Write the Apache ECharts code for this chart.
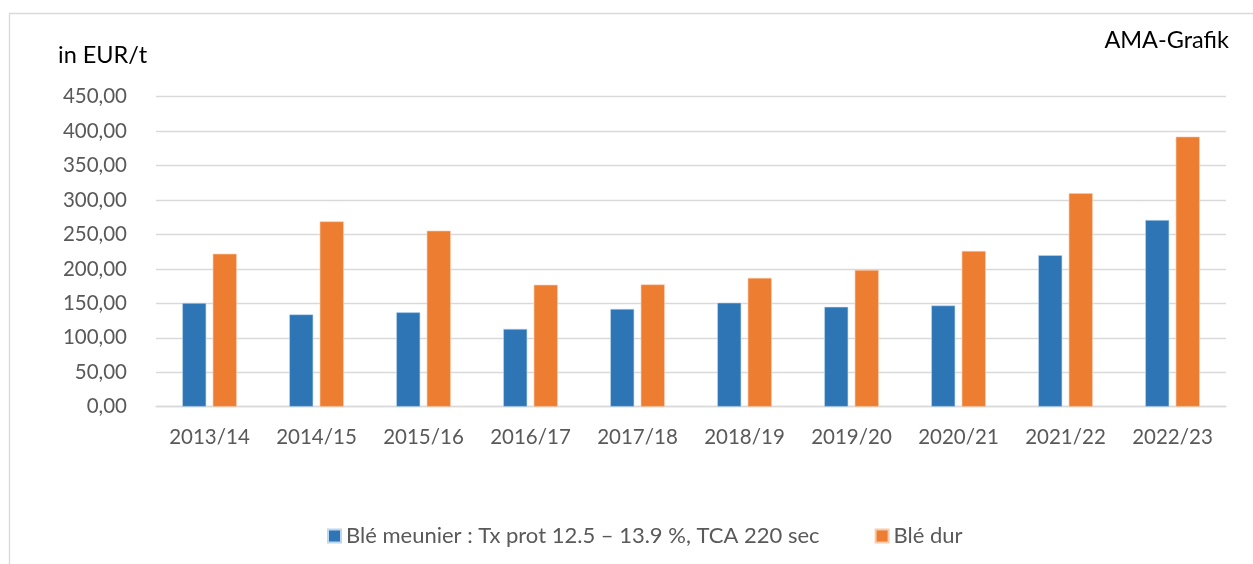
<!DOCTYPE html>
<html>
<head>
<meta charset="utf-8">
<script src="https://cdn.jsdelivr.net/npm/echarts@6/dist/echarts.min.js"></script>
<style>
html,body{margin:0;padding:0;background:#fff;}
#chart{width:1253px;height:564px;}
</style>
</head>
<body>
<div id="chart"></div>
<script>
var categories = ['2013/14','2014/15','2015/16','2016/17','2017/18','2018/19','2019/20','2020/21','2021/22','2022/23'];
var bleMeunier = [150.5, 134, 137, 113, 142, 151, 145, 147, 220, 271];
var bleDur = [222, 269, 255.5, 177, 177.5, 187, 198.5, 226, 310, 392];
var seriesNames = ['Blé meunier : Tx prot 12.5 – 13.9 %, TCA 220 sec', 'Blé dur'];
var yTicks = [0, 50, 100, 150, 200, 250, 300, 350, 400, 450];

var FONT = 'Lato, "Open Sans", sans-serif';
var chart = echarts.init(document.getElementById('chart'), null, {renderer:'canvas'});
chart.setOption({
  animation:false,
  backgroundColor:'#fff',
  textStyle:{fontFamily:FONT},
  graphic:[
    {type:'rect', shape:{x:9.5,y:13.5,width:1260,height:600}, style:{fill:'none',stroke:'#d9d9d9',lineWidth:1.3}, silent:true},
    {type:'text', left:58, top:43, style:{text:'in EUR/t', font:'23.5px '+FONT, fill:'#000'}},
    {type:'text', right:24, top:28, style:{text:'AMA-Grafik', font:'23.5px '+FONT, fill:'#000'}}
  ],
  grid:{left:156, right:27, top:96.7, bottom:157.3, containLabel:false},
  legend:{
    bottom:12, left:322,
    itemWidth:13, itemHeight:13, itemGap:55,
    icon:'rect',
    textStyle:{fontSize:22, color:'#595959', fontFamily:FONT, padding:[0,0,0,0]},
    data:seriesNames
  },
  xAxis:{
    type:'category', data:categories,
    axisLine:{lineStyle:{color:'#d9d9d9', width:1.3}},
    axisTick:{show:false},
    axisLabel:{fontSize:20.5, color:'#595959', margin:20, fontFamily:FONT}
  },
  yAxis:{
    type:'value', min:yTicks[0], max:yTicks[yTicks.length-1], interval:50,
    axisLine:{show:false}, axisTick:{show:false},
    splitLine:{lineStyle:{color:'#d9d9d9', width:1.3}},
    axisLabel:{fontSize:20.5, color:'#595959', margin:29, fontFamily:FONT,
      formatter:function(v){return v.toFixed(2).replace('.',',');}}
  },
  series:[
    {name:seriesNames[0], type:'bar', data:bleMeunier, barWidth:24, barGap:'27%',
     itemStyle:{color:'#2E75B6', borderColor:'#BDD7EE', borderWidth:0.6}},
    {name:seriesNames[1], type:'bar', data:bleDur, barWidth:24, barGap:'27%',
     itemStyle:{color:'#ED7D31', borderColor:'#F8CBAD', borderWidth:0.6}}
  ]
});
</script>
</body>
</html>
